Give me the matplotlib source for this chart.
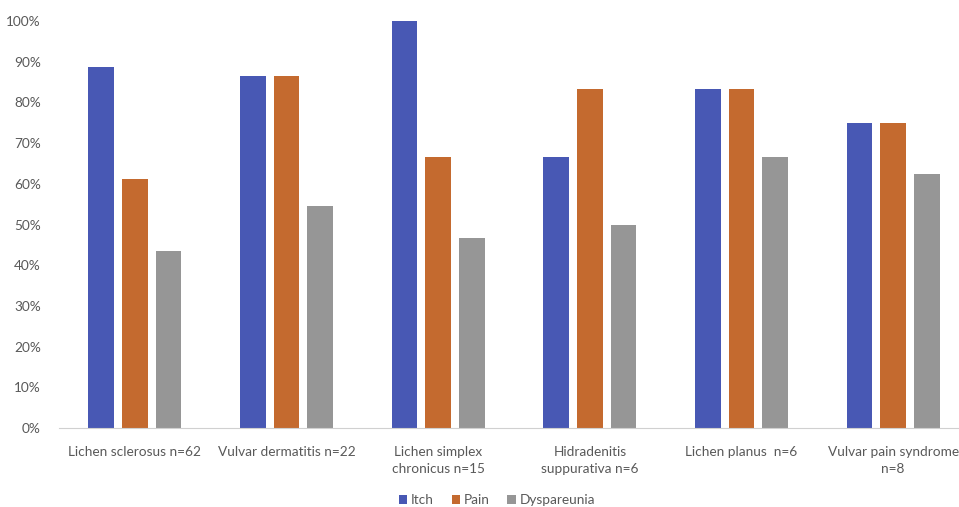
import numpy as np
import matplotlib.pyplot as plt
from matplotlib.ticker import PercentFormatter

categories = ['Lichen sclerosus n=62', 'Vulvar dermatitis n=22',
              'Lichen simplex\nchronicus n=15', 'Hidradenitis\nsuppurativa n=6',
              'Lichen planus  n=6', 'Vulvar pain syndrome\nn=8']
itch = [88.7, 86.4, 100.0, 66.7, 83.3, 75.0]
pain = [61.3, 86.4, 66.7, 83.3, 83.3, 75.0]
dyspareunia = [43.5, 54.5, 46.7, 50.0, 66.7, 62.5]

series = [('Itch', itch, '#4858b4'),
          ('Pain', pain, '#c46a2f'),
          ('Dyspareunia', dyspareunia, '#969696')]

plt.rcParams['font.family'] = ['Lato', 'DejaVu Sans']

fig = plt.figure(figsize=(9.59, 5.07), dpi=100)
ax = fig.add_axes([59 / 959, 79 / 507, 910 / 959, 407 / 507])

x = np.arange(len(categories))
width = 0.17
step = 0.222
for i, (name, vals, color) in enumerate(series):
    ax.bar(x + (i - 1) * step, vals, width, color=color, label=name)

ax.set_xlim(-0.5, len(categories) - 0.5)
ax.set_ylim(0, 100)
ax.set_yticks(np.arange(0, 101, 10))
ax.yaxis.set_major_formatter(PercentFormatter(decimals=0))
ax.set_xticks(x)
ax.set_xticklabels(categories, linespacing=1.45)

for side in ['top', 'right', 'left']:
    ax.spines[side].set_visible(False)
ax.spines['bottom'].set_color('#d0d0d0')
ax.tick_params(axis='both', length=0, colors='#595959', labelsize=9.8)
ax.tick_params(axis='x', pad=13)
ax.tick_params(axis='y', pad=13)

ax.legend(loc='lower center', bbox_to_anchor=(438 / 910, -0.222), ncol=3,
          frameon=False, fontsize=9.8, handlelength=0.6, handleheight=0.6,
          handletextpad=0.3, columnspacing=1.3, labelcolor='#595959')

fig.savefig('out.png', dpi=100)
